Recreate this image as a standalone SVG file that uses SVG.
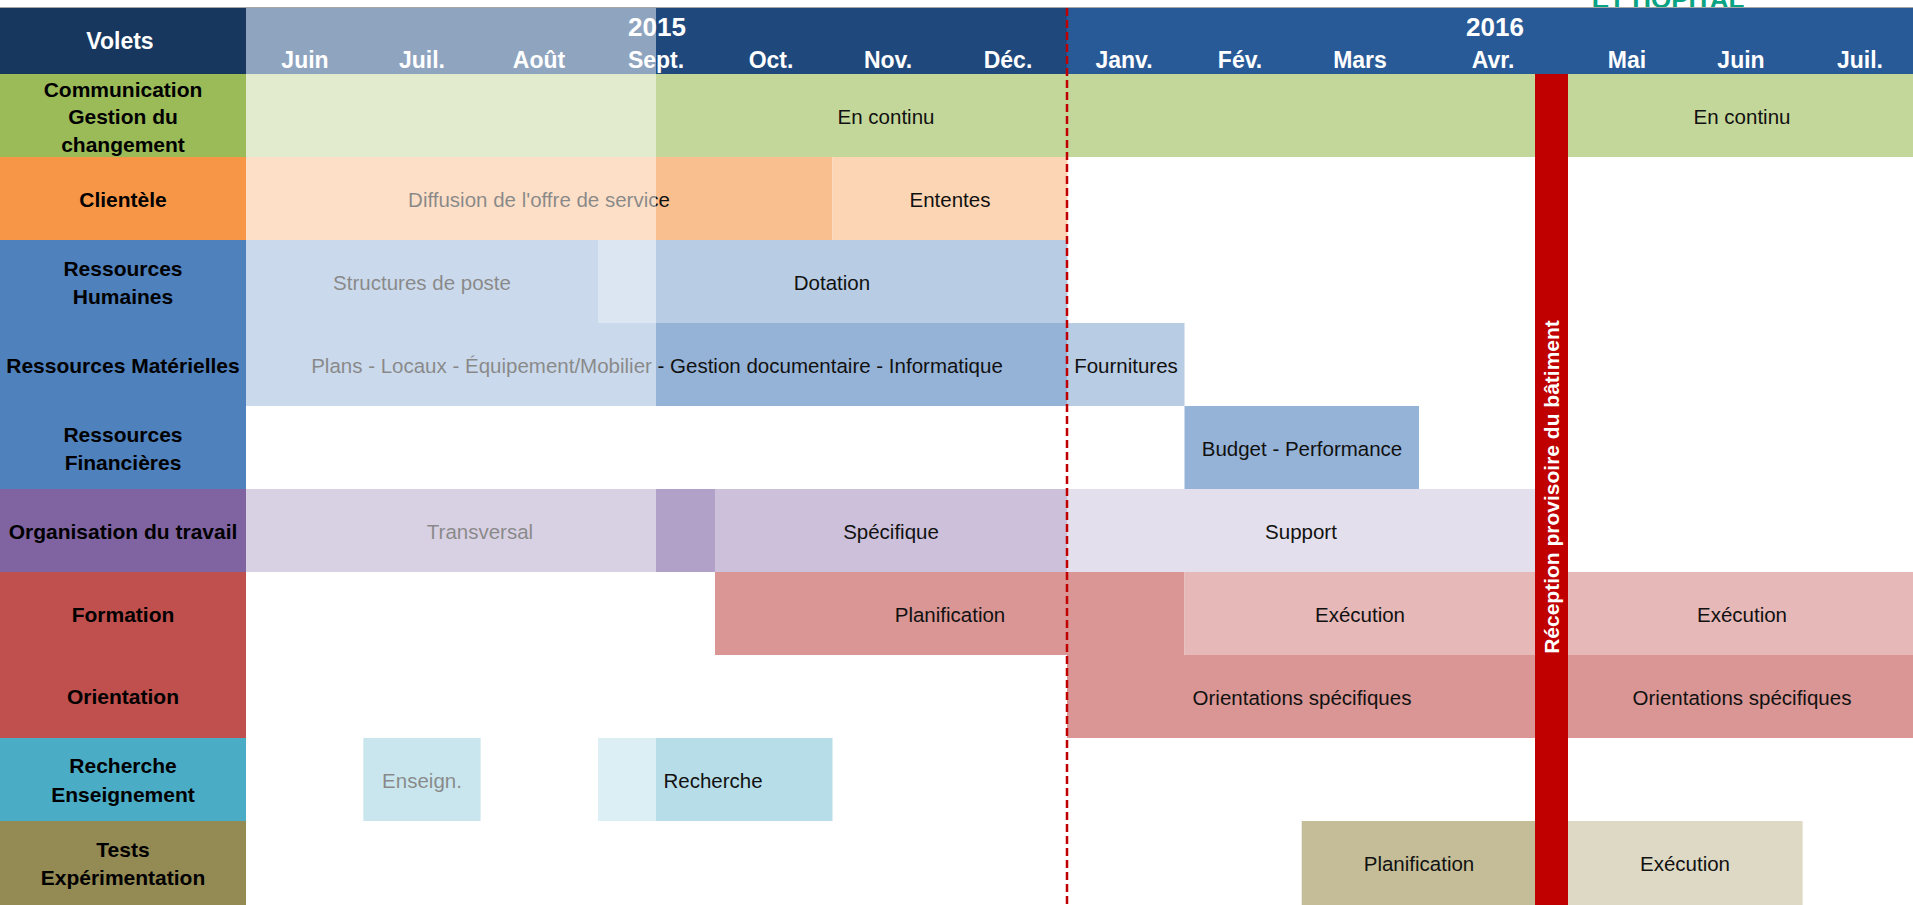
<svg xmlns="http://www.w3.org/2000/svg" width="1913" height="905" viewBox="0 0 1913 905">
  <style>
    text { font-family: "Liberation Sans", Arial, sans-serif; }
    .hdr { fill: #ffffff; font-weight: bold; font-size: 23px; text-anchor: middle; }
    .year { fill: #ffffff; font-weight: bold; font-size: 26px; text-anchor: middle; }
    .lbl { fill: #000000; font-weight: bold; font-size: 21px; text-anchor: middle; }
    .bar { fill: #111111; font-size: 20.5px; text-anchor: middle; }
    .milestone { fill: #ffffff; font-weight: bold; font-size: 21px; text-anchor: middle; }
  </style>
  <rect x="0" y="0" width="1913" height="905" fill="#ffffff"/>
  <text x="1668" y="8" font-size="26" font-weight="bold" fill="#0aa383" text-anchor="middle">ET HÔPITAL</text>

  <g id="header">
    <rect x="0" y="8" width="246" height="66" fill="#17375e"/>
    <rect x="246" y="8" width="822" height="66" fill="#1f497d"/>
    <rect x="1067" y="8" width="846" height="66" fill="#285a98"/>
    <text class="hdr" x="120" y="49">Volets</text>
    <text class="year" x="657" y="36">2015</text>
    <text class="year" x="1495" y="36">2016</text>
    <text class="hdr" x="305" y="68">Juin</text>
    <text class="hdr" x="422" y="68">Juil.</text>
    <text class="hdr" x="539" y="68">Août</text>
    <text class="hdr" x="656" y="68">Sept.</text>
    <text class="hdr" x="771" y="68">Oct.</text>
    <text class="hdr" x="888" y="68">Nov.</text>
    <text class="hdr" x="1008" y="68">Déc.</text>
    <text class="hdr" x="1124" y="68">Janv.</text>
    <text class="hdr" x="1240" y="68">Fév.</text>
    <text class="hdr" x="1360" y="68">Mars</text>
    <text class="hdr" x="1493" y="68">Avr.</text>
    <text class="hdr" x="1627" y="68">Mai</text>
    <text class="hdr" x="1741" y="68">Juin</text>
    <text class="hdr" x="1860" y="68">Juil.</text>
  </g>
  <line x1="0" y1="7.5" x2="1913" y2="7.5" stroke="#a6a6a6" stroke-width="1"/>

  <g id="communication">
    <rect x="0" y="74" width="246" height="83" fill="#9bbb59"/>
    <text class="lbl" x="123" y="96.5">Communication</text>
    <text class="lbl" x="123" y="124">Gestion du</text>
    <text class="lbl" x="123" y="151.5">changement</text>
    <rect x="246" y="74" width="1290" height="83" fill="#c4d79b"/>
    <rect x="1568" y="74" width="345" height="83" fill="#c4d79b"/>
    <text class="bar" x="886" y="123.5">En continu</text>
    <text class="bar" x="1742" y="123.5">En continu</text>
  </g>

  <g id="clientele">
    <rect x="0" y="157" width="246" height="83" fill="#f79646"/>
    <text class="lbl" x="123" y="206.5">Clientèle</text>
    <rect x="246" y="157" width="586.5" height="83" fill="#fabf8f"/>
    <rect x="832.5" y="157" width="235" height="83" fill="#fcd5b4"/>
    <text class="bar" x="539" y="206.5">Diffusion de l'offre de service</text>
    <text class="bar" x="950" y="206.5">Ententes</text>
  </g>

  <g id="ressources-humaines">
    <rect x="0" y="240" width="246" height="83" fill="#4f81bd"/>
    <text class="lbl" x="123" y="276">Ressources</text>
    <text class="lbl" x="123" y="304">Humaines</text>
    <rect x="246" y="240" width="352" height="83" fill="#95b3d7"/>
    <rect x="598" y="240" width="469.5" height="83" fill="#b8cce4"/>
    <text class="bar" x="422" y="289.5">Structures de poste</text>
    <text class="bar" x="832" y="289.5">Dotation</text>
  </g>

  <g id="ressources-materielles">
    <rect x="0" y="323" width="246" height="83" fill="#4f81bd"/>
    <text class="lbl" x="123" y="373">Ressources Matérielles</text>
    <rect x="246" y="323" width="821.5" height="83" fill="#95b3d7"/>
    <rect x="1067" y="323" width="117.5" height="83" fill="#b8cce4"/>
    <text class="bar" x="657" y="372.5">Plans - Locaux - Équipement/Mobilier - Gestion documentaire - Informatique</text>
    <text class="bar" x="1126" y="372.5">Fournitures</text>
  </g>

  <g id="ressources-financieres">
    <rect x="0" y="406" width="246" height="83" fill="#4f81bd"/>
    <text class="lbl" x="123" y="442">Ressources</text>
    <text class="lbl" x="123" y="470">Financières</text>
    <rect x="1184.5" y="406" width="234.5" height="83" fill="#95b3d7"/>
    <text class="bar" x="1302" y="455.5">Budget - Performance</text>
  </g>

  <g id="organisation">
    <rect x="0" y="489" width="246" height="83" fill="#8064a2"/>
    <text class="lbl" x="123" y="539">Organisation du travail</text>
    <rect x="246" y="489" width="469.5" height="83" fill="#b1a0c7"/>
    <rect x="715" y="489" width="352.5" height="83" fill="#ccc0da"/>
    <rect x="1067" y="489" width="469" height="83" fill="#e4dfec"/>
    <text class="bar" x="480" y="538.5">Transversal</text>
    <text class="bar" x="891" y="538.5">Spécifique</text>
    <text class="bar" x="1301" y="538.5">Support</text>
  </g>

  <g id="formation">
    <rect x="0" y="572" width="246" height="83" fill="#c0504d"/>
    <text class="lbl" x="123" y="621.5">Formation</text>
    <rect x="715" y="572" width="469.5" height="83" fill="#da9694"/>
    <rect x="1184.5" y="572" width="351.5" height="83" fill="#e6b8b7"/>
    <rect x="1568" y="572" width="345" height="83" fill="#e6b8b7"/>
    <text class="bar" x="950" y="621.5">Planification</text>
    <text class="bar" x="1360" y="621.5">Exécution</text>
    <text class="bar" x="1742" y="621.5">Exécution</text>
  </g>

  <g id="orientation">
    <rect x="0" y="655" width="246" height="83" fill="#c0504d"/>
    <text class="lbl" x="123" y="704">Orientation</text>
    <rect x="1067" y="655" width="469" height="83" fill="#da9694"/>
    <rect x="1568" y="655" width="345" height="83" fill="#da9694"/>
    <text class="bar" x="1302" y="704.5">Orientations spécifiques</text>
    <text class="bar" x="1742" y="704.5">Orientations spécifiques</text>
  </g>

  <g id="recherche">
    <rect x="0" y="738" width="246" height="83" fill="#4bacc6"/>
    <text class="lbl" x="123" y="773">Recherche</text>
    <text class="lbl" x="123" y="801.5">Enseignement</text>
    <rect x="363.3" y="738" width="117.3" height="83" fill="#92cddc"/>
    <rect x="598" y="738" width="234.5" height="83" fill="#b7dee8"/>
    <text class="bar" x="422" y="787.5">Enseign.</text>
    <text class="bar" x="713" y="787.5">Recherche</text>
  </g>

  <g id="tests">
    <rect x="0" y="821" width="246" height="84" fill="#948a54"/>
    <text class="lbl" x="123" y="856.5">Tests</text>
    <text class="lbl" x="123" y="885">Expérimentation</text>
    <rect x="1301.7" y="821" width="234.3" height="84" fill="#c4bd97"/>
    <rect x="1568" y="821" width="234.6" height="84" fill="#ddd9c4"/>
    <text class="bar" x="1419" y="870.5">Planification</text>
    <text class="bar" x="1685" y="870.5">Exécution</text>
  </g>

  <g id="past-overlay">
    <rect x="246" y="8" width="410" height="897" fill="#ffffff" fill-opacity="0.5"/>
  </g>

  <g id="connectors">
    <line x1="1067" y1="8" x2="1067" y2="905" stroke="#c00000" stroke-width="2.5" stroke-dasharray="8 4"/>
  </g>

  <g id="reception-batiment">
    <rect x="1535" y="74" width="33" height="831" fill="#c00000"/>
    <text class="milestone" transform="translate(1559,487) rotate(-90)" x="0" y="0">Réception provisoire du bâtiment</text>
  </g>
</svg>
